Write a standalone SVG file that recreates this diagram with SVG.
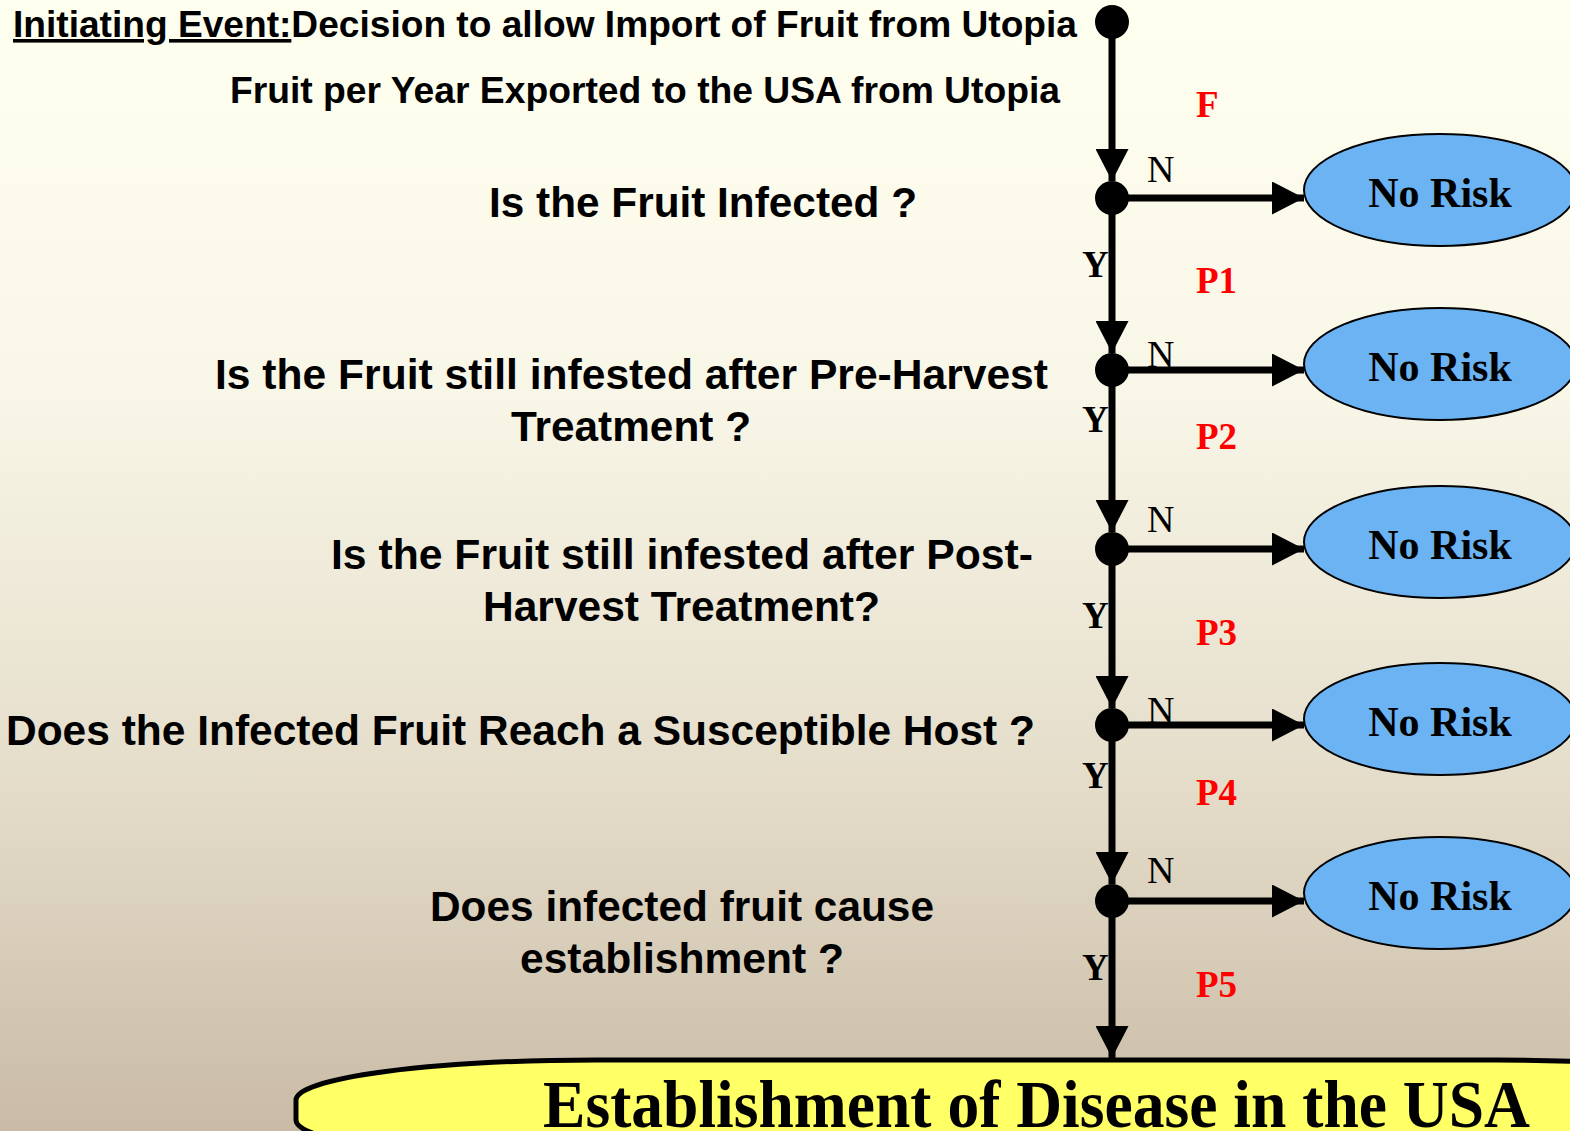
<svg xmlns="http://www.w3.org/2000/svg" width="1570" height="1131" viewBox="0 0 1570 1131">
  <defs>
    <linearGradient id="bg" x1="0" y1="0" x2="0" y2="1">
      <stop offset="0" stop-color="#FFFFF0"/>
      <stop offset="0.35" stop-color="#F8F6E7"/>
      <stop offset="0.7" stop-color="#E4DCC9"/>
      <stop offset="1" stop-color="#C9BBA6"/>
    </linearGradient>
    <marker id="head" viewBox="0 0 32 33" refX="32" refY="16.5" markerWidth="32" markerHeight="33" markerUnits="userSpaceOnUse" orient="auto">
      <path d="M0,0 L32,16.5 L0,33 Z" fill="#000"/>
    </marker>
  </defs>
  <style>
    .q { font-family: "Liberation Sans", Arial, sans-serif; font-weight: bold; font-size: 42px; fill: #000; text-anchor: middle; }
    .top { font-family: "Liberation Sans", Arial, sans-serif; font-weight: bold; font-size: 36px; fill: #000; }
    .risk { font-family: "Liberation Serif", "Times New Roman", serif; font-weight: bold; font-size: 42px; fill: #000; text-anchor: middle; }
    .prob { font-family: "Liberation Serif", "Times New Roman", serif; font-weight: bold; font-size: 37px; fill: #FF0000; }
    .n { font-family: "Liberation Serif", "Times New Roman", serif; font-size: 38px; fill: #000; }
    .y { font-family: "Liberation Serif", "Times New Roman", serif; font-weight: bold; font-size: 37px; fill: #000; }
    .ell { fill: #6BB3F2; stroke: #000; stroke-width: 2; }
    .dot { fill: #000; }
    .edge { stroke: #000; stroke-width: 7; fill: none; marker-end: url(#head); }
  </style>

  <rect x="0" y="0" width="1570" height="1131" fill="url(#bg)"/>

  <!-- header texts -->
  <g id="header">
    <text class="top" x="13" y="37" textLength="1064" lengthAdjust="spacingAndGlyphs"><tspan text-decoration="underline">Initiating Event:</tspan>Decision to allow Import of Fruit from Utopia</text>
    <text class="top" x="230" y="103" textLength="830" lengthAdjust="spacingAndGlyphs">Fruit per Year Exported to the USA from Utopia</text>
  </g>

  <!-- question texts -->
  <g id="questions">
    <text class="q" x="703" y="217" textLength="428" lengthAdjust="spacingAndGlyphs">Is the Fruit Infected ?</text>
    <text class="q" x="631.5" y="389" textLength="833" lengthAdjust="spacingAndGlyphs">Is the Fruit still infested after Pre-Harvest</text>
    <text class="q" x="631" y="441" textLength="240" lengthAdjust="spacingAndGlyphs">Treatment ?</text>
    <text class="q" x="682" y="569" textLength="702" lengthAdjust="spacingAndGlyphs">Is the Fruit still infested after Post-</text>
    <text class="q" x="681.5" y="621" textLength="397" lengthAdjust="spacingAndGlyphs">Harvest Treatment?</text>
    <text class="q" x="520.5" y="745" textLength="1029" lengthAdjust="spacingAndGlyphs">Does the Infected Fruit Reach a Susceptible Host ?</text>
    <text class="q" x="682" y="921" textLength="504" lengthAdjust="spacingAndGlyphs">Does infected fruit cause</text>
    <text class="q" x="682" y="973" textLength="324" lengthAdjust="spacingAndGlyphs">establishment ?</text>
  </g>

  <!-- connectors -->
  <g id="connectors">
    <line class="edge" x1="1112" y1="22" x2="1112" y2="181"/>
    <line class="edge" x1="1112" y1="198" x2="1112" y2="353"/>
    <line class="edge" x1="1112" y1="370" x2="1112" y2="532"/>
    <line class="edge" x1="1112" y1="549" x2="1112" y2="708"/>
    <line class="edge" x1="1112" y1="725" x2="1112" y2="884"/>
    <line class="edge" x1="1112" y1="901" x2="1112" y2="1058"/>
    <line class="edge" x1="1112" y1="198" x2="1304" y2="198"/>
    <line class="edge" x1="1112" y1="370" x2="1304" y2="370"/>
    <line class="edge" x1="1112" y1="549" x2="1304" y2="549"/>
    <line class="edge" x1="1112" y1="725" x2="1304" y2="725"/>
    <line class="edge" x1="1112" y1="901" x2="1304" y2="901"/>
  </g>

  <!-- branch labels -->
  <g id="labels">
    <text class="prob" x="1196" y="117">F</text>
    <text class="prob" x="1196" y="293">P1</text>
    <text class="prob" x="1196" y="449">P2</text>
    <text class="prob" x="1196" y="645">P3</text>
    <text class="prob" x="1196" y="805">P4</text>
    <text class="prob" x="1196" y="997">P5</text>
    <text class="n" x="1147" y="182">N</text>
    <text class="n" x="1147" y="367">N</text>
    <text class="n" x="1147" y="532">N</text>
    <text class="n" x="1147" y="723">N</text>
    <text class="n" x="1147" y="883">N</text>
    <text class="y" x="1082" y="277">Y</text>
    <text class="y" x="1082" y="432">Y</text>
    <text class="y" x="1082" y="628">Y</text>
    <text class="y" x="1082" y="788">Y</text>
    <text class="y" x="1082" y="980">Y</text>
  </g>

  <!-- decision points -->
  <g id="start"><circle class="dot" cx="1112" cy="22" r="17"/></g>
  <g id="d1"><circle class="dot" cx="1112" cy="198" r="17"/></g>
  <g id="d2"><circle class="dot" cx="1112" cy="370" r="17"/></g>
  <g id="d3"><circle class="dot" cx="1112" cy="549" r="17"/></g>
  <g id="d4"><circle class="dot" cx="1112" cy="725" r="17"/></g>
  <g id="d5"><circle class="dot" cx="1112" cy="901" r="17"/></g>

  <!-- outcome nodes -->
  <g id="norisk1"><ellipse class="ell" cx="1440" cy="190" rx="136" ry="56"/><text class="risk" x="1440" y="207">No Risk</text></g>
  <g id="norisk2"><ellipse class="ell" cx="1440" cy="364" rx="136" ry="56"/><text class="risk" x="1440" y="381">No Risk</text></g>
  <g id="norisk3"><ellipse class="ell" cx="1440" cy="542" rx="136" ry="56"/><text class="risk" x="1440" y="559">No Risk</text></g>
  <g id="norisk4"><ellipse class="ell" cx="1440" cy="719" rx="136" ry="56"/><text class="risk" x="1440" y="736">No Risk</text></g>
  <g id="norisk5"><ellipse class="ell" cx="1440" cy="893" rx="136" ry="56"/><text class="risk" x="1440" y="910">No Risk</text></g>

  <!-- final outcome -->
  <g id="establishment">
    <rect x="299" y="1063" width="1500" height="100" rx="300" ry="40" fill="none" stroke="#8A8070" stroke-width="5" opacity="0.6"/>
    <rect x="296" y="1060" width="1500" height="100" rx="300" ry="40" fill="#FFFF66" stroke="#000" stroke-width="5"/>
    <text x="543" y="1127" font-family="'Liberation Serif', 'Times New Roman', serif" font-weight="bold" font-size="68" textLength="987" lengthAdjust="spacingAndGlyphs" fill="#000">Establishment of Disease in the USA</text>
  </g>
</svg>
